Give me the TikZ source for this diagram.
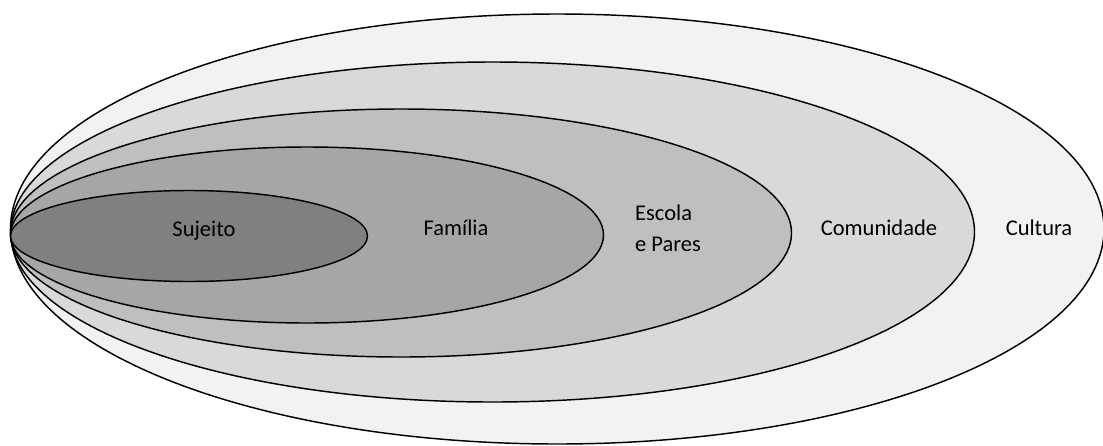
\documentclass[tikz,border=0pt]{standalone}
\usepackage{fontspec}
\setmainfont{Carlito}
\usetikzlibrary{shapes.geometric}
\definecolor{cCultura}{HTML}{F2F2F2}
\definecolor{cComunidade}{HTML}{D9D9D9}
\definecolor{cEscola}{HTML}{BFBFBF}
\definecolor{cFamilia}{HTML}{A6A6A6}
\definecolor{cSujeito}{HTML}{808080}
\tikzset{
  layer/.style={ellipse, draw=black, line width=1.45pt, inner sep=0pt, outer sep=0pt},
  lbl/.style={font=\fontsize{22.5}{30}\selectfont, text=black, inner sep=0pt, anchor=base}
}
\begin{document}
\begin{tikzpicture}[x=1pt, y=-1pt]
\useasboundingbox (0,0) rectangle (1103,445);
\node[layer, fill=cCultura,    minimum width=1093.5pt, minimum height=430pt] (cultura)    at (557.25,229) {};
\node[layer, fill=cComunidade, minimum width=964pt,    minimum height=340pt] (comunidade) at (492.5,232) {};
\node[layer, fill=cEscola,     minimum width=781pt,    minimum height=248pt] (escola)     at (401,233) {};
\node[layer, fill=cFamilia,    minimum width=593pt,    minimum height=176pt] (familia)    at (307,235) {};
\node[layer, fill=cSujeito,    minimum width=357pt,    minimum height=91pt]  (sujeito)    at (189,236) {};
\node[lbl] (tSujeito) at (204,236.5) {Sujeito};
\node[lbl] (tFamilia) at (456,235) {Família};
\node[lbl, anchor=base west] (tEscola) at (635,220) {Escola};
\node[lbl, anchor=base west] (tPares) at (635,251) {e Pares};
\node[lbl] (tComunidade) at (879,235.5) {Comunidade};
\node[lbl] (tCultura) at (1039,235.5) {Cultura};
\end{tikzpicture}
\end{document}
